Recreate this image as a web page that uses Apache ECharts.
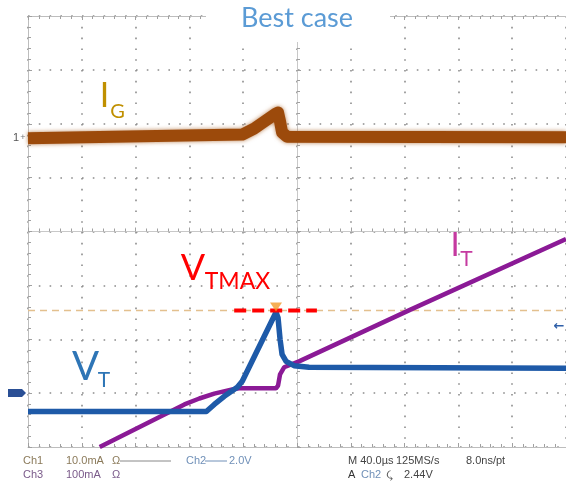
<!DOCTYPE html>
<html>
<head>
<meta charset="utf-8">
<script src="https://cdn.jsdelivr.net/npm/echarts@6/dist/echarts.min.js"></script>
<style>
html,body{margin:0;padding:0;background:#fff;}
#c{width:566px;height:490px;}
</style>
</head>
<body>
<div id="c"></div>
<script>
// Time axis in microseconds (40 µs/div), vertical axis in divisions
const X_MIN = -200, X_MAX = 200, X_STEP = 40;
const Y_MIN = -4, Y_MAX = 4, Y_STEP = 1;

// Ch1: gate current I_G (divisions)
const igT = [-200, -40.7, -31.9, -24.4, -15.6, -14.1, -12.6, -11.1, -7.4, 200];
const igV = [1.73, 1.80, 1.91, 2.04, 2.19, 2.21, 2.04, 1.84, 1.76, 1.75];

// Ch2: voltage V_T (divisions)
const vtT = [-200, -67.4, -61.5, -54.1, -44.4, -40.7, -15.6, -14.1, -12.6, -11.1, -8.1, -2.2, 8.9, 200];
const vtV = [-3.34, -3.34, -3.21, -3.06, -2.89, -2.78, -1.50, -1.60, -2.00, -2.28, -2.41, -2.49, -2.52, -2.54];

// Ch3: current I_T (divisions)
const itT = [-146.7, -83.7, -72.6, -61.5, -48.1, -43.0, -15.6, -14.1, -12.6, -9.6, 1.5, 84.4, 200];
const itV = [-4.0, -3.21, -3.10, -3.01, -2.93, -2.91, -2.91, -2.86, -2.65, -2.52, -2.41, -1.45, -0.14];

// Cursor level (V_TMAX) and marker
const cursorLevel = -1.466;
const vtmaxSpan = [-46.7, 14.8];
const peakMarkerT = -15.6;
const peakMarkerV = -1.40;

// Readout texts
const readRow1 = ['Ch1', '10.0mA', 'Ω', 'Ch2', '2.0V', 'M 40.0µs', '125MS/s', '8.0ns/pt'];
const readRow2 = ['Ch3', '100mA', 'Ω', 'A', 'Ch2', '⤹', '2.44V'];

const zip = (a, b) => a.map((v, i) => [v, b[i]]);

const chart = echarts.init(document.getElementById('c'), null, {renderer: 'canvas'});

const gridLine = '#bdbdbd';
const tickCol = '#a0a0a0';
const dotCol = '#8c8c8c';
function axisBase(extra) {
  return Object.assign({
    type: 'value',
    axisLabel: {show: false},
    axisLine: {show: true, onZero: false, lineStyle: {color: gridLine, width: 1}},
    axisTick: {show: true, inside: true, length: 4, lineStyle: {color: tickCol}},
    minorTick: {show: true, splitNumber: 5, length: 3, lineStyle: {color: tickCol}},
    splitLine: {show: false}
  }, extra);
}

const xa = {min: X_MIN, max: X_MAX, interval: X_STEP};
const ya = {min: Y_MIN, max: Y_MAX, interval: Y_STEP};
const dotted = {show: true, lineStyle: {color: dotCol, width: 1.6, type: [1.6, 9.2]}};

const option = {
  animation: false,
  backgroundColor: '#fff',
  grid: {left: 28, top: 16, width: 540, height: 431, containLabel: false},
  xAxis: [
    axisBase(Object.assign({}, xa, {
      axisLine: {show: true, onZero: true, lineStyle: {color: '#c8c8c8'}},
      splitLine: dotted
    })),
    axisBase(Object.assign({}, xa, {position: 'top'})),
    axisBase(Object.assign({}, xa, {position: 'bottom'}))
  ],
  yAxis: [
    axisBase(Object.assign({}, ya, {
      axisLine: {show: true, onZero: true, lineStyle: {color: '#c8c8c8'}},
      splitLine: dotted
    })),
    axisBase(Object.assign({}, ya, {position: 'left'}))
  ],
  series: [
    {
      type: 'line', name: 'cursor', symbol: 'none', silent: true,
      data: [[X_MIN, cursorLevel], [X_MAX, cursorLevel]],
      lineStyle: {color: '#e3c08e', width: 1.6, type: [7, 5]}, z: 1
    },
    {
      type: 'line', name: 'IG', symbol: 'none', data: zip(igT, igV),
      lineStyle: {color: '#9c4a0b', width: 12, join: 'round', shadowBlur: 4, shadowColor: 'rgba(160,80,15,0.7)'}, z: 2
    },
    {
      type: 'line', name: 'IT', symbol: 'none', data: zip(itT, itV),
      lineStyle: {color: '#8b1a96', width: 4.5}, z: 3
    },
    {
      type: 'line', name: 'VT', symbol: 'none', data: zip(vtT, vtV),
      lineStyle: {color: '#1e5aa8', width: 5.5, join: 'round'}, z: 4
    },
    {
      type: 'line', name: 'VTMAX', symbol: 'none',
      data: [[vtmaxSpan[0], cursorLevel], [vtmaxSpan[1], cursorLevel]],
      lineStyle: {color: '#ff0000', width: 4, type: [12, 6]}, z: 5
    },
    {
      type: 'scatter', name: 'peak', data: [[peakMarkerT, peakMarkerV]],
      symbol: 'triangle', symbolRotate: 180, symbolSize: [12, 9],
      itemStyle: {color: '#f39a2a'}, z: 6
    }
  ],
  graphic: [
    {type: 'rect', z: 100, shape: {x: 206, y: 0, width: 184, height: 42}, style: {fill: '#fff'}},
    {type: 'text', z: 101, x: 297, y: 18, style: {text: 'Best case', font: '27px Lato', fill: '#5b9bd5', textAlign: 'center', textVerticalAlign: 'middle'}},
    // I_G
    {type: 'text', z: 101, x: 104.5, y: 96, style: {text: 'I', font: '34px Lato', fill: '#c09000', textAlign: 'center', textVerticalAlign: 'middle'}},
    {type: 'text', z: 101, x: 117.5, y: 112, style: {text: 'G', font: '20px Lato', fill: '#c09000', textAlign: 'center', textVerticalAlign: 'middle'}},
    // V_TMAX
    {type: 'text', z: 101, x: 193, y: 268, style: {text: 'V', font: '36px Lato', fill: '#ff0000', textAlign: 'center', textVerticalAlign: 'middle'}},
    {type: 'text', z: 101, x: 237.5, y: 281.5, style: {text: 'TMAX', font: '23px Lato', fill: '#ff0000', textAlign: 'center', textVerticalAlign: 'middle'}},
    // I_T
    {type: 'text', z: 101, x: 455, y: 245, style: {text: 'I', font: '33px Lato', fill: '#c53aa0', textAlign: 'center', textVerticalAlign: 'middle'}},
    {type: 'text', z: 101, x: 466.5, y: 259.5, style: {text: 'T', font: '21px Lato', fill: '#c53aa0', textAlign: 'center', textVerticalAlign: 'middle'}},
    // V_T
    {type: 'text', z: 101, x: 85.5, y: 367.5, style: {text: 'V', font: '40px Lato', fill: '#2e75b6', textAlign: 'center', textVerticalAlign: 'middle'}},
    {type: 'text', z: 101, x: 104, y: 380.5, style: {text: 'T', font: '21px Lato', fill: '#2e75b6', textAlign: 'center', textVerticalAlign: 'middle'}},
    // channel markers
    {type: 'text', z: 101, x: 16, y: 138, style: {text: '1', font: '11px "Liberation Sans"', fill: '#555', textAlign: 'center', textVerticalAlign: 'middle'}},
    {type: 'text', z: 101, x: 23, y: 138, style: {text: '+', font: '9px "Liberation Sans"', fill: '#777', textAlign: 'center', textVerticalAlign: 'middle'}},
    {type: 'polygon', z: 101, shape: {points: [[8, 389], [22, 389], [26, 393], [22, 397], [8, 397]]}, style: {fill: '#2a4f95'}},
    {type: 'text', z: 101, x: 559, y: 327, style: {text: '←', font: 'bold 13px "DejaVu Sans"', fill: '#2e5fa8', textAlign: 'center', textVerticalAlign: 'middle'}},
    // readouts row 1
    {type: 'text', z: 101, x: 23, y: 461, style: {text: readRow1[0], font: '11px "Liberation Sans"', fill: '#8b7a5a', textVerticalAlign: 'middle'}},
    {type: 'text', z: 101, x: 66, y: 461, style: {text: readRow1[1], font: '11px "Liberation Sans"', fill: '#8b7a5a', textVerticalAlign: 'middle'}},
    {type: 'text', z: 101, x: 112, y: 461, style: {text: readRow1[2], font: '11px "Liberation Sans"', fill: '#8b7a5a', textVerticalAlign: 'middle'}},
    {type: 'line', z: 101, shape: {x1: 120, y1: 461, x2: 171, y2: 461}, style: {stroke: '#888', lineWidth: 1}},
    {type: 'text', z: 101, x: 186, y: 461, style: {text: readRow1[3], font: '11px "Liberation Sans"', fill: '#7090b8', textVerticalAlign: 'middle'}},
    {type: 'line', z: 101, shape: {x1: 205, y1: 461, x2: 227, y2: 461}, style: {stroke: '#7090b8', lineWidth: 1}},
    {type: 'text', z: 101, x: 229, y: 461, style: {text: readRow1[4], font: '11px "Liberation Sans"', fill: '#7090b8', textVerticalAlign: 'middle'}},
    {type: 'text', z: 101, x: 348, y: 461, style: {text: readRow1[5], font: '11px "Liberation Sans"', fill: '#444', textVerticalAlign: 'middle'}},
    {type: 'text', z: 101, x: 396, y: 461, style: {text: readRow1[6], font: '11px "Liberation Sans"', fill: '#444', textVerticalAlign: 'middle'}},
    {type: 'text', z: 101, x: 466, y: 461, style: {text: readRow1[7], font: '11px "Liberation Sans"', fill: '#444', textVerticalAlign: 'middle'}},
    // readouts row 2
    {type: 'text', z: 101, x: 23, y: 475, style: {text: readRow2[0], font: '11px "Liberation Sans"', fill: '#7a5a8a', textVerticalAlign: 'middle'}},
    {type: 'text', z: 101, x: 66, y: 475, style: {text: readRow2[1], font: '11px "Liberation Sans"', fill: '#7a5a8a', textVerticalAlign: 'middle'}},
    {type: 'text', z: 101, x: 112, y: 475, style: {text: readRow2[2], font: '11px "Liberation Sans"', fill: '#7a5a8a', textVerticalAlign: 'middle'}},
    {type: 'text', z: 101, x: 348, y: 475, style: {text: readRow2[3], font: '11px "Liberation Sans"', fill: '#333', textVerticalAlign: 'middle'}},
    {type: 'text', z: 101, x: 361, y: 475, style: {text: readRow2[4], font: '11px "Liberation Sans"', fill: '#7090b8', textVerticalAlign: 'middle'}},
    {type: 'text', z: 101, x: 387, y: 475, style: {text: readRow2[5], font: '10px "DejaVu Sans"', fill: '#555', textVerticalAlign: 'middle'}},
    {type: 'text', z: 101, x: 404, y: 475, style: {text: readRow2[6], font: '11px "Liberation Sans"', fill: '#444', textVerticalAlign: 'middle'}}
  ]
};
chart.setOption(option);
</script>
</body>
</html>
